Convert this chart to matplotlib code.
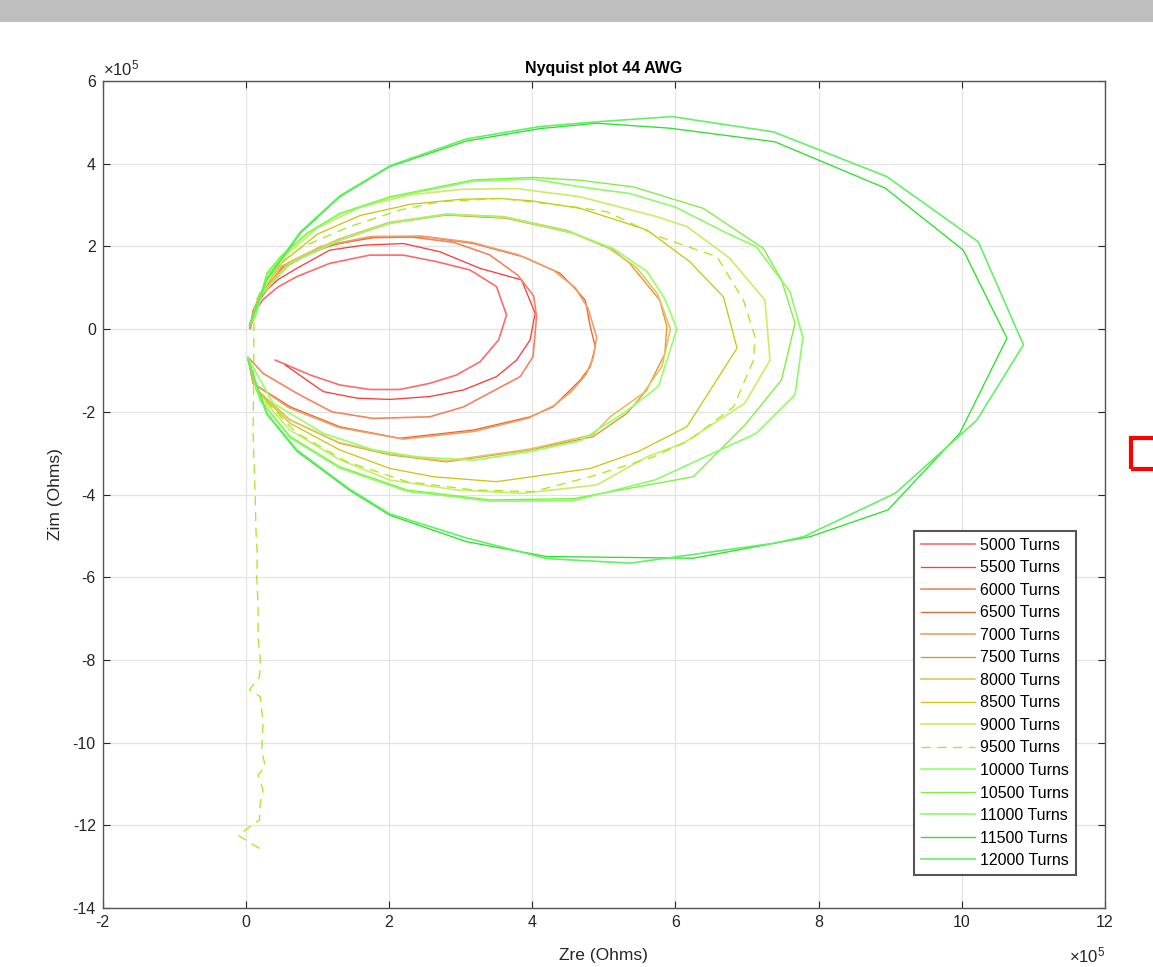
import matplotlib
matplotlib.use("Agg")
import matplotlib.pyplot as plt
from matplotlib.patches import Rectangle

plt.rcParams['font.family'] = ['Liberation Sans', 'DejaVu Sans']
plt.rcParams['axes.unicode_minus'] = False
plt.rcParams['mathtext.fontset'] = 'custom'
plt.rcParams['mathtext.rm'] = 'Liberation Sans'
plt.rcParams['mathtext.it'] = 'Liberation Sans'

# values in units of 1e5 Ohms
labels = ["5000 Turns", "5500 Turns", "6000 Turns", "6500 Turns", "7000 Turns",
          "7500 Turns", "8000 Turns", "8500 Turns", "9000 Turns", "9500 Turns",
          "10000 Turns", "10500 Turns", "11000 Turns", "11500 Turns", "12000 Turns"]

zre_5000 = [0.06, 0.1, 0.24, 0.45, 0.71, 1.17, 1.73, 2.2, 2.67, 3.13, 3.5, 3.64, 3.53, 3.27, 2.94, 2.57, 2.15, 1.73, 1.31, 0.9, 0.41]
zim_5000 = [0.02, 0.35, 0.72, 1.02, 1.27, 1.59, 1.79, 1.79, 1.63, 1.43, 1.03, 0.34, -0.26, -0.79, -1.11, -1.31, -1.46, -1.46, -1.35, -1.11, -0.75]

zre_5500 = [0.06, 0.1, 0.24, 0.45, 0.71, 1.17, 1.64, 2.2, 2.71, 3.27, 3.85, 4.04, 3.97, 3.78, 3.5, 3.04, 2.57, 2.01, 1.55, 1.08, 0.55]
zim_5500 = [0.02, 0.4, 0.87, 1.2, 1.47, 1.91, 2.03, 2.07, 1.87, 1.47, 1.19, 0.38, -0.26, -0.75, -1.15, -1.47, -1.63, -1.70, -1.67, -1.51, -0.87]

zre_6000 = [0.06, 0.1, 0.24, 0.5, 0.9, 1.3, 1.78, 2.3, 2.9, 3.4, 3.8, 4.02, 4.06, 4.01, 3.83, 3.45, 3.04, 2.57, 1.78, 1.2, 0.71, 0.24, 0.03]
zim_6000 = [0.02, 0.45, 0.95, 1.45, 1.85, 2.08, 2.21, 2.23, 2.1, 1.8, 1.3, 0.8, 0.3, -0.67, -1.15, -1.5, -1.88, -2.12, -2.16, -2.0, -1.55, -1.07, -0.68]

zre_6500 = [0.07, 0.15, 0.52, 1.08, 1.78, 2.53, 3.18, 3.87, 4.39, 4.57, 4.74, 4.81, 4.88, 4.81, 4.67, 4.29, 3.97, 3.18, 2.15, 1.31, 0.62, 0.1, 0.03]
zim_6500 = [0.1, 0.6, 1.51, 1.99, 2.23, 2.23, 2.07, 1.75, 1.35, 1.03, 0.7, 0.06, -0.43, -0.91, -1.23, -1.88, -2.12, -2.44, -2.64, -2.36, -1.88, -1.31, -0.7]

zre_7000 = [0.07, 0.15, 0.5, 1.05, 1.75, 2.45, 3.15, 3.8, 4.3, 4.6, 4.78, 4.9, 4.85, 4.75, 4.55, 4.3, 3.95, 3.2, 2.2, 1.3, 0.6, 0.1, 0.03]
zim_7000 = [0.1, 0.62, 1.52, 2.0, 2.24, 2.25, 2.1, 1.8, 1.42, 1.0, 0.5, -0.2, -0.7, -1.1, -1.5, -1.85, -2.15, -2.47, -2.66, -2.38, -1.9, -1.31, -0.7]

zre_7500 = [0.08, 0.17, 0.62, 1.31, 2.01, 2.8, 3.64, 4.57, 5.13, 5.36, 5.78, 5.88, 5.85, 5.6, 5.32, 4.85, 3.97, 2.8, 2.01, 1.31, 0.62, 0.15, 0.03]
zim_7500 = [0.14, 0.75, 1.59, 2.15, 2.56, 2.76, 2.68, 2.32, 1.91, 1.59, 0.7, 0.06, -0.6, -1.47, -2.04, -2.6, -2.92, -3.21, -3.04, -2.76, -2.2, -1.47, -0.7]

zre_8000 = [0.08, 0.18, 0.6, 1.3, 2.0, 2.8, 3.6, 4.5, 5.05, 5.45, 5.75, 5.93, 5.81, 5.55, 5.09, 4.85, 3.97, 2.8, 2.0, 1.3, 0.6, 0.15, 0.03]
zim_8000 = [0.14, 0.78, 1.62, 2.18, 2.58, 2.78, 2.72, 2.38, 1.98, 1.5, 0.85, 0.0, -0.91, -1.55, -2.12, -2.55, -2.9, -3.19, -3.02, -2.74, -2.18, -1.45, -0.7]

zre_8500 = [0.1, 0.2, 0.5, 1.0, 1.6, 2.3, 3.0, 3.55, 4.0, 4.67, 5.6, 6.2, 6.67, 6.86, 6.16, 5.48, 4.81, 3.5, 2.62, 2.01, 1.31, 0.62, 0.15, 0.03]
zim_8500 = [0.2, 0.85, 1.6, 2.3, 2.75, 3.02, 3.14, 3.16, 3.1, 2.92, 2.4, 1.63, 0.78, -0.46, -2.36, -2.96, -3.37, -3.69, -3.57, -3.37, -2.92, -2.28, -1.5, -0.7]

zre_9000 = [0.12, 0.22, 0.5, 1.0, 1.6, 2.3, 3.0, 3.78, 4.67, 5.74, 6.16, 6.76, 7.25, 7.32, 6.97, 6.11, 5.6, 4.9, 3.87, 2.94, 2.01, 1.3, 0.62, 0.18, 0.03]
zim_9000 = [0.25, 0.9, 1.7, 2.45, 2.95, 3.25, 3.38, 3.4, 3.2, 2.72, 2.48, 1.71, 0.7, -0.75, -1.79, -2.76, -3.09, -3.77, -3.97, -3.89, -3.65, -3.15, -2.45, -1.6, -0.7]

zre_9500 = [0.19, -0.11, 0.19, 0.2, 0.24, 0.17, 0.27, 0.22, 0.24, 0.2, 0.05, 0.19, 0.2, 0.17, 0.17, 0.15, 0.16, 0.14, 0.13, 0.1, 0.11, 0.11, 0.12,
            0.35, 0.8, 1.45, 2.15, 2.71, 3.55, 4.57, 5.04, 5.78, 6.58, 6.95, 7.11, 7.09, 6.81, 6.2, 5.69, 4.81, 4.01, 3.18, 2.25, 1.4, 0.7, 0.2, 0.03]
zim_9500 = [-12.56, -12.24, -11.87, -11.47, -11.15, -10.78, -10.58, -10.18, -9.53, -8.89, -8.72, -8.41, -8.0, -7.44, -6.63, -5.99, -5.5, -4.86, -4.05, -2.52, -1.0, 0.0, 0.6,
            1.45, 2.0, 2.48, 2.88, 3.08, 3.16, 2.96, 2.84, 2.23, 1.75, 0.7, -0.18, -0.75, -1.88, -2.68, -3.09, -3.57, -3.93, -3.89, -3.69, -3.2, -2.5, -1.6, -0.72]

zre_10000 = [0.13, 0.2, 0.62, 1.31, 2.01, 2.8, 3.64, 4.57, 5.13, 5.6, 5.85, 6.02, 5.76, 5.27, 4.67, 3.97, 3.18, 2.39, 1.78, 1.08, 0.38, 0.03]
zim_10000 = [0.3, 0.8, 1.59, 2.15, 2.56, 2.78, 2.7, 2.32, 1.95, 1.4, 0.74, 0.0, -1.39, -2.04, -2.7, -2.96, -3.17, -3.09, -2.92, -2.52, -1.79, -0.7]

zre_10500 = [0.13, 0.29, 0.48, 0.85, 1.31, 2.01, 3.18, 4.01, 4.67, 5.41, 6.39, 7.23, 7.48, 7.67, 7.48, 6.97, 6.25, 5.2, 4.57, 3.41, 2.25, 1.31, 0.62, 0.2, 0.03]
zim_10500 = [0.3, 1.35, 1.75, 2.32, 2.8, 3.2, 3.61, 3.67, 3.6, 3.44, 2.92, 1.95, 1.19, 0.14, -1.23, -2.32, -3.57, -3.9, -4.1, -4.13, -3.89, -3.33, -2.6, -1.71, -0.7]

zre_11000 = [0.13, 0.29, 0.48, 0.85, 1.31, 2.01, 3.18, 4.01, 4.67, 5.36, 6.0, 6.72, 7.13, 7.6, 7.78, 7.67, 7.13, 5.71, 4.57, 3.41, 2.25, 1.31, 0.62, 0.2, 0.03]
zim_11000 = [0.3, 1.3, 1.72, 2.3, 2.78, 3.18, 3.58, 3.63, 3.44, 3.28, 2.95, 2.32, 1.99, 0.9, -0.2, -1.59, -2.52, -3.65, -4.15, -4.16, -3.92, -3.36, -2.63, -1.73, -0.7]

zre_11500 = [0.05, 0.29, 0.76, 1.31, 2.01, 3.08, 4.11, 4.9, 5.92, 7.39, 8.93, 10.02, 10.63, 9.97, 8.97, 7.88, 6.25, 4.2, 3.08, 2.01, 1.45, 0.71, 0.29, 0.03]
zim_11500 = [0.1, 1.19, 2.32, 3.2, 3.93, 4.55, 4.85, 4.98, 4.86, 4.53, 3.41, 1.91, -0.22, -2.52, -4.37, -5.02, -5.54, -5.5, -5.14, -4.5, -3.9, -2.95, -2.05, -0.75]

zre_12000 = [0.05, 0.29, 0.76, 1.31, 2.01, 3.08, 4.11, 4.95, 5.95, 7.37, 8.95, 10.23, 10.86, 10.21, 9.07, 7.79, 7.37, 5.37, 4.2, 3.08, 2.01, 1.45, 0.71, 0.29, 0.03]
zim_12000 = [0.1, 1.22, 2.35, 3.22, 3.95, 4.6, 4.9, 5.02, 5.14, 4.77, 3.69, 2.11, -0.38, -2.2, -3.97, -5.02, -5.18, -5.66, -5.55, -5.05, -4.47, -3.87, -2.92, -2.03, -0.75]

zre_all = [zre_5000, zre_5500, zre_6000, zre_6500, zre_7000, zre_7500, zre_8000, zre_8500,
           zre_9000, zre_9500, zre_10000, zre_10500, zre_11000, zre_11500, zre_12000]
zim_all = [zim_5000, zim_5500, zim_6000, zim_6500, zim_7000, zim_7500, zim_8000, zim_8500,
           zim_9000, zim_9500, zim_10000, zim_10500, zim_11000, zim_11500, zim_12000]

colors = ['#ff6a6a', '#ff3c3c', '#f4845f', '#e8642a', '#f0a064', '#e49422', '#e2c464', '#d0c414',
          '#c8ee64', '#a4ec1e', '#96ff64', '#7af03c', '#8cfc64', '#28e428', '#64f064']

fig = plt.figure(figsize=(11.53, 9.67), dpi=100)
ax = fig.add_axes([0.0891, 0.0610, 0.8693, 0.8552])

for i in range(len(labels)):
    ls = '--' if labels[i] == "9500 Turns" else '-'
    lw = 1.2 if i % 2 == 0 else 0.95
    ax.plot(zre_all[i], zim_all[i], color=colors[i], lw=lw, ls=ls, label=labels[i],
            dashes=(7, 5) if ls == '--' else (None, None))

ax.set_xlim(-2, 12)
ax.set_ylim(-14, 6)
ax.set_xticks(range(-2, 13, 2))
ax.set_yticks(range(-14, 7, 2))
ax.grid(True, color='#e3e3e3', lw=0.9)
ax.set_axisbelow(True)
ax.tick_params(direction='in', top=True, right=True, labelsize=11.5, colors='#262626', length=5, pad=5)
for s in ax.spines.values():
    s.set_color('#555555')
    s.set_linewidth(1.0)

ax.set_title("Nyquist plot 44 AWG", fontsize=11.5, fontweight='bold', pad=6)
ax.set_xlabel("Zre (Ohms)", fontsize=12.5, color='#262626', labelpad=13)
ax.set_ylabel("Zim (Ohms)", fontsize=12.5, color='#262626', labelpad=7)
ax.text(0.0, 1.003, r'$\times10^{5}$', transform=ax.transAxes, ha='left', va='bottom',
        fontsize=12, color='#262626')
ax.text(1.0, -0.045, r'$\times10^{5}$', transform=ax.transAxes, ha='right', va='top',
        fontsize=12, color='#262626')

leg = ax.legend(loc='lower right', bbox_to_anchor=(0.979, 0.030), fontsize=11.5,
                handlelength=3.4, labelspacing=0.47, borderpad=0.45, handletextpad=0.3,
                fancybox=False, framealpha=1)
leg.get_frame().set_edgecolor('#555555')
leg.get_frame().set_linewidth(1.5)

# screenshot artifacts: gray band at top and red marker on the right
fig.patches.append(Rectangle((0, 1 - 22 / 967), 1, 22 / 967, transform=fig.transFigure,
                             facecolor='#bebebe', edgecolor='none'))
fig.patches.append(Rectangle((1131 / 1153, 1 - 469 / 967), 40 / 1153, 31 / 967,
                             transform=fig.transFigure, facecolor='none',
                             edgecolor='#ff0000', lw=3, clip_on=False))

fig.savefig("out.png", dpi=100)
